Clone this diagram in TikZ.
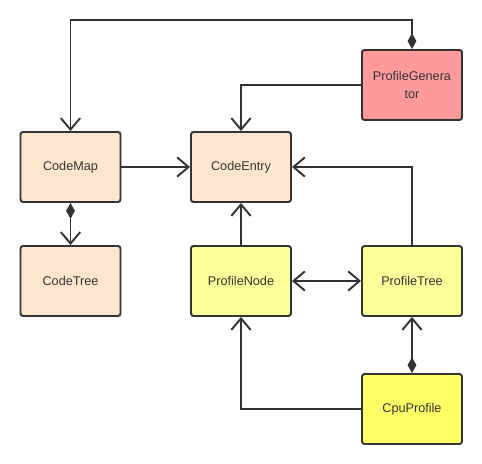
\documentclass[tikz,border=0pt]{standalone}
\usepackage{fontspec}
\setmainfont{Liberation Sans}
\usetikzlibrary{arrows.meta}

\definecolor{peach}{HTML}{FFE6CC}
\definecolor{rose}{HTML}{FF9A9A}
\definecolor{paleyellow}{HTML}{FFFF99}
\definecolor{brightyellow}{HTML}{FFFF66}
\definecolor{ink}{HTML}{333333}

\tikzset{
    classbox/.style={draw=ink, line width=1.1pt, rounded corners=1.5pt,
        minimum width=2cm, minimum height=1.4cm, align=center,
        text=ink, font=\fontsize{7.2}{10}\selectfont},
    barb/.tip={Straight Barb[length=6.5pt,width=11pt,line width=1.1pt]},
    link/.style={draw=ink, line width=1.1pt, -barb},
    owns/.style={link, {Diamond[length=9pt,width=5pt]}-barb},
    both/.style={link, barb-barb}
}

\begin{document}
\begin{tikzpicture}
    \useasboundingbox (0, 0) rectangle (9.64, -9.28);

    % Define nodes
    \draw (1.41, -3.34) node[classbox, fill=peach] (CM) {CodeMap};
    \draw (4.82, -3.34) node[classbox, fill=peach] (CE) {CodeEntry};
    \draw (8.24, -1.70) node[classbox, fill=rose] (PG) {ProfileGenera\\tor};
    \draw (1.41, -5.62) node[classbox, fill=peach] (CT) {CodeTree};
    \draw (4.82, -5.62) node[classbox, fill=paleyellow] (PN) {ProfileNode};
    \draw (8.24, -5.62) node[classbox, fill=paleyellow] (PT) {ProfileTree};
    \draw (8.24, -8.18) node[classbox, fill=brightyellow] (CP) {CpuProfile};
    \coordinate (top) at (0, -0.40);

    % Code side
    \draw[owns] (PG.north) -- (PG.north |- top) -| (CM.north);
    \draw[link] (PG.west) -| (CE.north);
    \draw[link] (CM.east) -- (CE.west);
    \draw[owns] (CM.south) -- (CT.north);

    % Profile side
    \draw[link] (PN.north) -- (CE.south);
    \draw[link] (PT.north) |- (CE.east);
    \draw[both] (PN.east) -- (PT.west);
    \draw[link] (CP.west) -| (PN.south);
    \draw[owns] (CP.north) -- (PT.south);
\end{tikzpicture}
\end{document}
